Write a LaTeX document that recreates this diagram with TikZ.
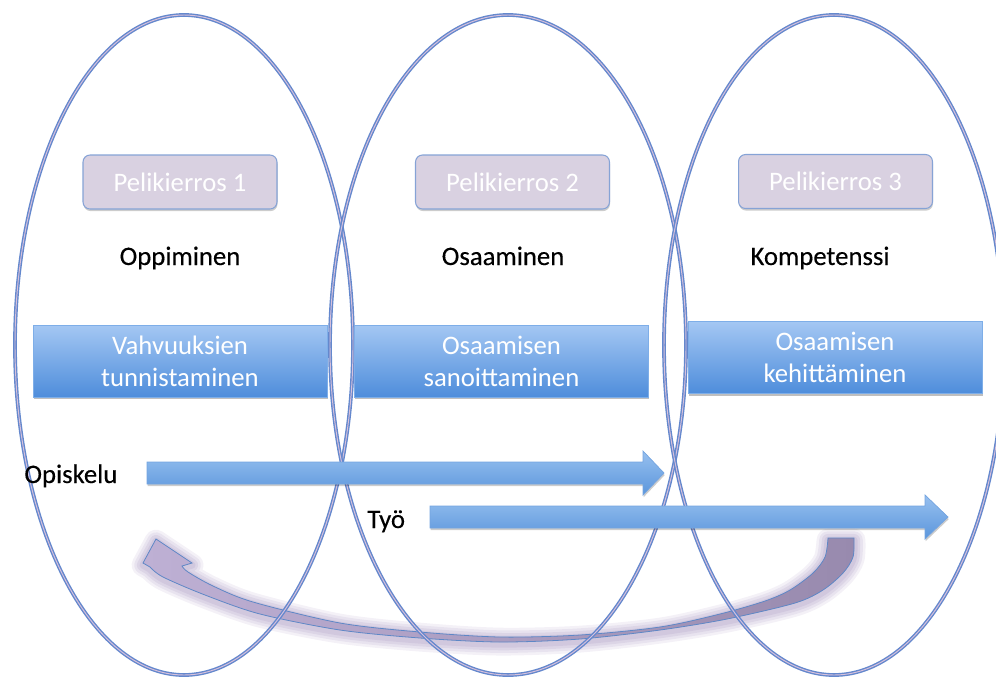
\documentclass[tikz,border=0pt]{standalone}
\usepackage{fontspec}
\setmainfont{Carlito}
\newfontfamily\darkfont{Carlito}[FakeBold=0.25]
\usetikzlibrary{shadows}

\definecolor{ellblue}{HTML}{6488CD}
\definecolor{elllav}{HTML}{D6C0DC}
\definecolor{tagfill}{HTML}{D9D1E1}
\definecolor{tagedge}{HTML}{86A3D6}
\definecolor{boxtop}{HTML}{A4C7F3}
\definecolor{boxbot}{HTML}{4E8DDB}
\definecolor{boxedge}{HTML}{7EAEE8}
\definecolor{arrtop}{HTML}{97C0EF}
\definecolor{arrbot}{HTML}{5B96DC}
\definecolor{arredge}{HTML}{74A4E0}
\definecolor{retlight}{HTML}{BEB0D4}
\definecolor{retdark}{HTML}{988AAE}
\definecolor{retglow}{HTML}{B8AACD}
\definecolor{retedge}{HTML}{5E87C6}

% outline of the curved return arrow (tail at right, head at left)
\newcommand{\returnshape}{%
  plot[smooth] coordinates {(854,538) (853,557) (843,573) (823,590) (795,603) (727,619)
    (660,630) (580,639) (500,642) (420,638) (340,630) (260,614) (205,595) (163,577) (150,567)}
  -- (143,563) -- (156,539) -- (192,563) -- (182,566)
  -- plot[smooth] coordinates {(182,566) (188,572) (213,586) (253,602) (340,623) (420,632)
    (500,637) (580,635) (660,627) (720,614) (765,601) (790,590) (813,573) (825,557) (828,538)}
  -- cycle}

\tikzset{
  ring/.style={draw=ellblue, double=elllav, line width=0.8pt, double distance=0.55pt},
  txt/.style={font=\fontsize{15.2}{18.3}\selectfont},
  tag/.style={txt, draw=tagedge, line width=0.6pt, fill=tagfill, rounded corners=4pt,
    minimum width=3.88cm, minimum height=1.08cm, text=white,
    drop shadow={shadow xshift=0.3pt, shadow yshift=-1.2pt, opacity=0.2, fill=black}},
  bluebox/.style={txt, draw=boxedge, line width=0.4pt, top color=boxtop, bottom color=boxbot,
    minimum width=5.88cm, minimum height=1.44cm, text=white, align=center,
    drop shadow={shadow xshift=0.4pt, shadow yshift=-1.4pt, opacity=0.25, fill=black}},
  phase/.style={font=\darkfont\fontsize{15.2}{18.3}\selectfont, text=black},
  flow/.style={draw=arredge, line width=0.4pt, top color=arrtop, bottom color=arrbot,
    drop shadow={shadow xshift=0.4pt, shadow yshift=-1.2pt, opacity=0.2, fill=black}},
  returnfill/.style={draw=retedge, line width=0.45pt, left color=retlight, right color=retdark},
}

\begin{document}
\begin{tikzpicture}[x=0.02cm, y=-0.02cm]
\useasboundingbox (0,0) rectangle (996,680);

% soft glow behind the return arrow
\begin{scope}[transform canvas={yshift=-1.2pt}]
  \foreach \w/\o in {13pt/0.16, 10pt/0.2, 7pt/0.25, 4pt/0.3}
    \draw[retglow, line width=\w, opacity=\o, line join=round] \returnshape;
\end{scope}
\path[returnfill] \returnshape;

% the three rounds
\draw[ring] (184,345) ellipse [x radius=169, y radius=330];
\draw[ring] (508,345) ellipse [x radius=178, y radius=330];
\draw[ring] (834,345) ellipse [x radius=170, y radius=330];

% round labels
\node[tag] (p1) at (180,182) {Pelikierros 1};
\node[tag] (p2) at (512.5,182) {Pelikierros 2};
\node[tag] (p3) at (835.5,181.5) {Pelikierros 3};

% phase names
\node[phase, anchor=base] (oppi) at (180,265) {Oppiminen};
\node[phase, anchor=base] (osaa) at (503,265) {Osaaminen};
\node[phase, anchor=base] (komp) at (820,265) {Kompetenssi};

% task boxes
\node[bluebox] (b1) at (180,361) {Vahvuuksien\\tunnistaminen};
\node[bluebox] (b2) at (501.5,361) {Osaamisen\\sanoittaminen};
\node[bluebox] (b3) at (835,357.5) {Osaamisen\\kehittäminen};

% study and work streams
\path[flow] (147,462) -- (643,462) -- (643,451) -- (664,473) -- (643,495) -- (643,484) -- (147,484) -- cycle;
\path[flow] (430,506) -- (925,506) -- (925,495) -- (948,517) -- (925,539) -- (925,528) -- (430,528) -- cycle;

\node[phase, anchor=base west, inner sep=0pt] (opis) at (24,483) {Opiskelu};
\node[phase, anchor=base west, inner sep=0pt] (tyo) at (367,528) {Työ};
\end{tikzpicture}
\end{document}
